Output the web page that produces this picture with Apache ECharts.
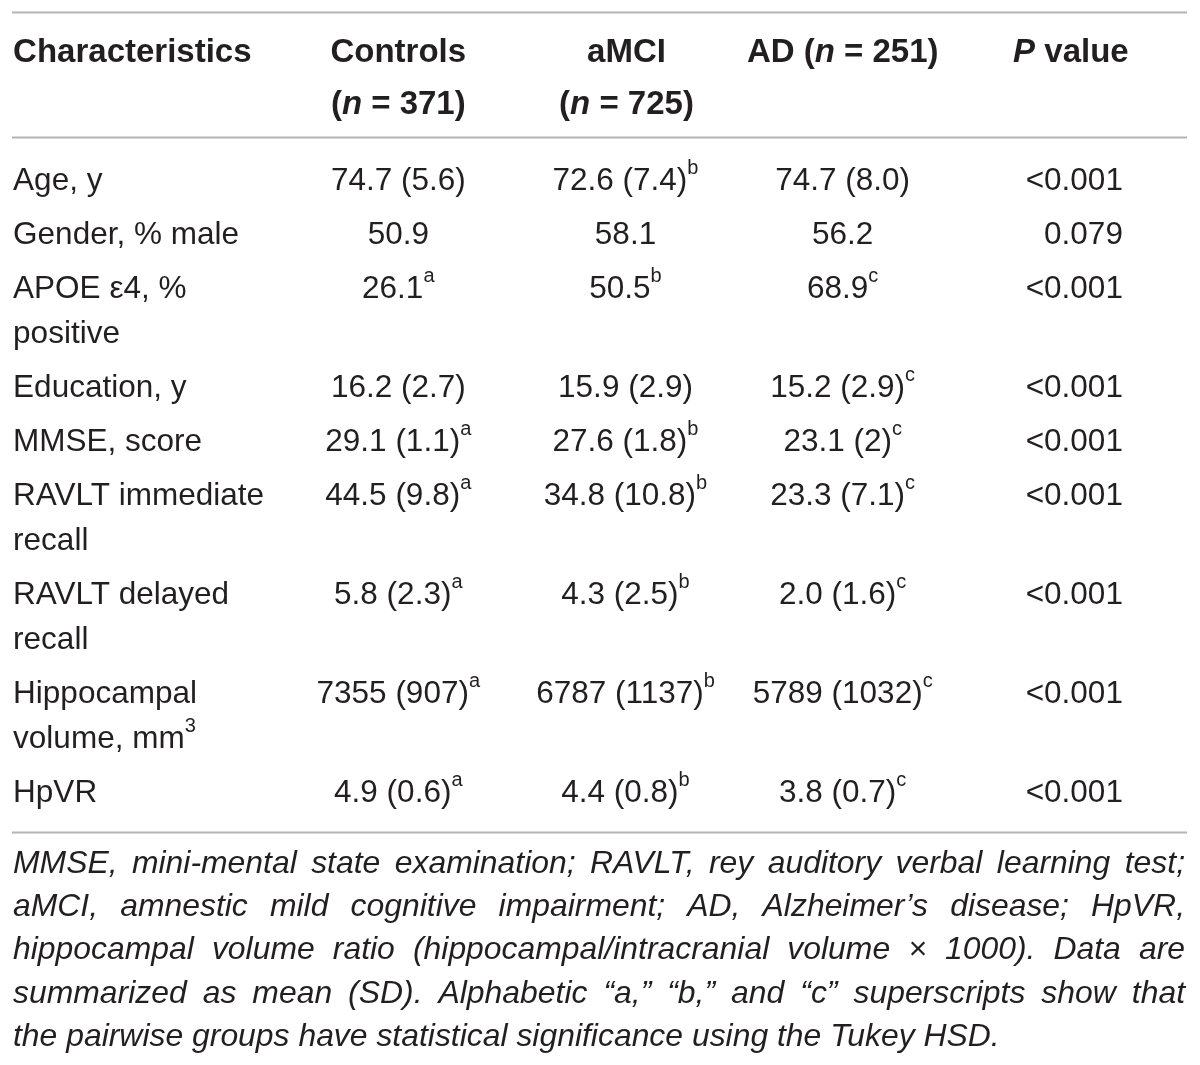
<!DOCTYPE html>
<html>
<head>
<meta charset="utf-8">
<script src="https://cdn.jsdelivr.net/npm/echarts@6/dist/echarts.min.js"></script>
<style>html,body{margin:0;padding:0;background:#fff}#chart{width:1200px;height:1065px}</style>
</head>
<body>
<div id="chart"></div>
<script>
// ---------------- data ----------------
const columnHeaders = ['Characteristics', 'Controls', 'aMCI', 'AD', 'P value'];
const groupSizes = [371, 725, 251];
const characteristics = [
  'Age, y',
  'Gender, % male',
  'APOE ε4, %\npositive',
  'Education, y',
  'MMSE, score',
  'RAVLT immediate\nrecall',
  'RAVLT delayed\nrecall',
  'Hippocampal\nvolume, mm^3',
  'HpVR'
];
const controls = ['74.7 (5.6)', '50.9', '26.1^a', '16.2 (2.7)', '29.1 (1.1)^a', '44.5 (9.8)^a', '5.8 (2.3)^a', '7355 (907)^a', '4.9 (0.6)^a'];
const amci     = ['72.6 (7.4)^b', '58.1', '50.5^b', '15.9 (2.9)', '27.6 (1.8)^b', '34.8 (10.8)^b', '4.3 (2.5)^b', '6787 (1137)^b', '4.4 (0.8)^b'];
const ad       = ['74.7 (8.0)', '56.2', '68.9^c', '15.2 (2.9)^c', '23.1 (2)^c', '23.3 (7.1)^c', '2.0 (1.6)^c', '5789 (1032)^c', '3.8 (0.7)^c'];
const pValues  = ['<0.001', '0.079', '<0.001', '<0.001', '<0.001', '<0.001', '<0.001', '<0.001', '<0.001'];
const footnoteLines = [
  'MMSE, mini-mental state examination; RAVLT, rey auditory verbal learning test;',
  'aMCI, amnestic mild cognitive impairment; AD, Alzheimer’s disease; HpVR,',
  'hippocampal volume ratio (hippocampal/intracranial volume × 1000). Data are',
  'summarized as mean (SD). Alphabetic “a,” “b,” and “c” superscripts show that',
  'the pairwise groups have statistical significance using the Tukey HSD.'
];

// ---------------- layout / style ----------------
const FONT = '"Liberation Sans", Arial, Helvetica, sans-serif';
const TEXT = '#231f20';
const RULE = '#b4b4b4';
const BODY_SIZE = 31.5, HEAD_SIZE = 33, SUP_SIZE = 20;
const colAlign  = ['left', 'center', 'center', 'center', 'right'];
const colOffset = [-161, 0, 3, -4, 52];
const headOffset = [-161, 0, 4, -4, 0];
const headAlign = ['left', 'center', 'center', 'center', 'center'];
const headWrap = [false, true, true, false, false];
const HEAD_Y = 53, HEAD_LH = 52;
const FIRST_ROW_Y = 181, ROW_GAP = 54, LINE_H = 45;

function richFor(align) {
  return {
    n:   { fontFamily: FONT, fontSize: BODY_SIZE, color: TEXT, align: align, lineHeight: LINE_H },
    sup: { fontFamily: FONT, fontSize: SUP_SIZE, color: TEXT, align: align, verticalAlign: 'top', lineHeight: 31 },
    b:   { fontFamily: FONT, fontSize: HEAD_SIZE, fontWeight: 'bold', color: TEXT, align: align, lineHeight: HEAD_LH },
    bi:  { fontFamily: FONT, fontSize: HEAD_SIZE, fontWeight: 'bold', fontStyle: 'italic', color: TEXT, align: align, lineHeight: HEAD_LH }
  };
}

// convert "text^x" markup into rich tokens, line by line
function toRich(str) {
  return str.split('\n').map(line => {
    const parts = line.split('^');
    let out = parts[0] ? '{n|' + parts[0] + '}' : '';
    for (let i = 1; i < parts.length; i++) {
      out += '{sup|' + parts[i].charAt(0) + '}';
      if (parts[i].length > 1) out += '{n|' + parts[i].slice(1) + '}';
    }
    return out;
  }).join('\n');
}

function headerRich(i) {
  if (i === 0) return '{b|' + columnHeaders[0] + '}';
  if (i === 4) return '{bi|P}{b| value}';
  const nPart = '{b|(}{bi|n}{b| = ' + groupSizes[i - 1] + ')}';
  return '{b|' + columnHeaders[i] + '}' + (headWrap[i] ? '\n' : '{b| }') + nPart;
}

// build cells
const cells = [];
for (let c = 0; c < 5; c++) {
  cells.push({ col: c, y: HEAD_Y, text: headerRich(c), lh: HEAD_LH, head: true });
}
const columnsData = [characteristics, controls, amci, ad, pValues];
let y = FIRST_ROW_Y;
for (let r = 0; r < characteristics.length; r++) {
  for (let c = 0; c < 5; c++) {
    cells.push({ col: c, y: y, text: toRich(columnsData[c][r]), lh: LINE_H, head: false });
  }
  const lines = characteristics[r].split('\n').length;
  y += ROW_GAP + LINE_H * (lines - 1);
}

// footnote: justified words
const FOOT_LEFT = 13, FOOT_RIGHT = 1185, FOOT_Y0 = 864, FOOT_LH = 43.3;
const meas = document.createElement('canvas').getContext('2d');
function footFont(s) { return 'italic ' + s + 'px ' + FONT; }
let FOOT_SIZE = 31.9;
// make sure every justified line still has a visible word gap
for (let guard = 0; guard < 40; guard++) {
  meas.font = footFont(FOOT_SIZE);
  const ok = footnoteLines.every(line => {
    const words = line.split(' ');
    const total = words.reduce((a, w) => a + meas.measureText(w).width, 0);
    return total + (words.length - 1) * FOOT_SIZE * 0.2 <= FOOT_RIGHT - FOOT_LEFT;
  });
  if (ok) break;
  FOOT_SIZE -= 0.2;
}
meas.font = footFont(FOOT_SIZE);
const footGraphics = [];
footnoteLines.forEach((line, li) => {
  const words = line.split(' ');
  const widths = words.map(w => meas.measureText(w).width);
  const total = widths.reduce((a, b) => a + b, 0);
  const last = li === footnoteLines.length - 1;
  const gap = last ? meas.measureText(' ').width : (FOOT_RIGHT - FOOT_LEFT - total) / (words.length - 1);
  let x = FOOT_LEFT;
  words.forEach((w, wi) => {
    footGraphics.push({
      type: 'text', x: x, y: FOOT_Y0 + li * FOOT_LH, silent: true,
      style: { text: w, fill: TEXT, font: footFont(FOOT_SIZE), align: 'left', verticalAlign: 'middle' }
    });
    x += widths[wi] + gap;
  });
});

const rules = [12.5, 137.5, 832.5].map(ry => ({
  type: 'line', silent: true,
  shape: { x1: 12, y1: ry, x2: 1187, y2: ry },
  style: { stroke: RULE, lineWidth: 2 }
}));

const chart = echarts.init(document.getElementById('chart'), null, { renderer: 'canvas' });
chart.setOption({
  animation: false,
  backgroundColor: '#ffffff',
  grid: { left: 62, right: 17, top: 0, bottom: 0 },
  xAxis: { type: 'category', data: columnHeaders, show: false },
  yAxis: { type: 'value', min: 0, max: 1065, inverse: true, show: false },
  graphic: rules.concat(footGraphics),
  series: [{
    type: 'custom',
    coordinateSystem: 'cartesian2d',
    silent: true,
    data: cells.map(c => [c.col, c.y]),
    renderItem: function (params, api) {
      const cell = cells[params.dataIndex];
      const p = api.coord([api.value(0), api.value(1)]);
      const align = cell.head ? headAlign[cell.col] : colAlign[cell.col];
      const off = cell.head ? headOffset[cell.col] : colOffset[cell.col];
      return {
        type: 'text',
        x: p[0] + off,
        y: p[1] - cell.lh / 2,
        style: {
          text: cell.text,
          rich: richFor(align),
          align: align,
          verticalAlign: 'top',
          lineHeight: cell.lh,
          fontFamily: FONT,
          fontSize: BODY_SIZE,
          fill: TEXT
        }
      };
    }
  }]
});
</script>
</body>
</html>
